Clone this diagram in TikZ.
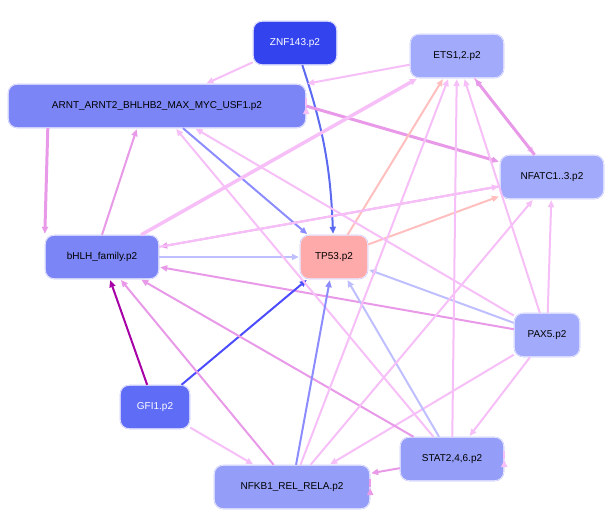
\documentclass[tikz,border=0pt]{standalone}
\usepackage{fontspec}
\setmainfont{Liberation Sans}
\usetikzlibrary{arrows.meta}
\begin{document}
\begin{tikzpicture}[x=1pt,y=-1pt,
 nd/.style={draw=white,double=blue!20,rounded corners=9pt,minimum height=44pt,font=\fontsize{10}{12}\selectfont,inner xsep=7pt},
 e/.style={-{Triangle[length=7pt,width=6pt]},line width=2pt,shorten >=1pt},
 lp/.style={e,draw=violet!25!magenta!25},
 mp/.style={e,draw=violet!45!magenta!40},
 lb/.style={e,draw=blue!25},
 pk/.style={e,draw=red!25}]
\useasboundingbox (0,0) rectangle (612,517);
\definecolor{c1}{HTML}{3344EE}\definecolor{c2}{HTML}{A2AAFB}\definecolor{c3}{HTML}{7B85F5}
\definecolor{c4}{HTML}{FFAAAA}\definecolor{c5}{HTML}{5F6CF5}\definecolor{c6}{HTML}{949EF8}
\node[nd,fill=c1,text=white,minimum width=84pt] (z) at (295,43) {ZNF143.p2};
\node[nd,fill=c2,minimum width=94pt] (e) at (457,56) {ETS1,2.p2};
\node[nd,fill=c3,minimum width=298pt] (a) at (157,106) {ARNT\_ARNT2\_BHLHB2\_MAX\_MYC\_USF1.p2};
\node[nd,fill=c2,minimum width=104pt] (n) at (552,177) {NFATC1..3.p2};
\node[nd,fill=c3,minimum width=114pt] (b) at (102,257) {bHLH\_family.p2};
\node[nd,fill=c4,minimum width=68pt] (t) at (334,257) {TP53.p2};
\node[nd,fill=c2,minimum width=66pt] (p) at (547,335) {PAX5.p2};
\node[nd,fill=c5,text=white,minimum width=70pt] (g) at (155,407) {GFI1.p2};
\node[nd,fill=c6,minimum width=104pt] (s) at (452,459) {STAT2,4,6.p2};
\node[nd,fill=c6,minimum width=156pt] (k) at (292,487) {NFKB1\_REL\_RELA.p2};
\begin{scope}[on background layer/.style={}]
\draw[e,draw=c1!80] (z) to[bend left=8] (t);
\draw[lp] (z) -- (a);
\draw[lp] (e) -- (a.north east);
\draw[lp] (e) -- (n);
\draw[mp,line width=3pt] (n) -- (e);
\draw[mp,line width=3pt] (a.east) -- (n);
\draw[e,draw=blue!45] (a) -- (t);
\draw[lp] (a.east) to[out=-10,in=0,looseness=6] (a.east);
\draw[mp,line width=3pt] (a.south west) ++(40,0) -- (b.north west);
\draw[mp] (b.north) -- ([xshift=-20pt]a.south);
\draw[lb] (b) -- (t);
\draw[lp,line width=3.5pt] (b) -- (e);
\draw[pk] (t) -- (e);
\draw[pk] (t) -- (n);
\draw[mp] (n) -- (b);
\draw[lp] (p) -- (n);
\draw[lb] (p) -- (t);
\draw[mp] (p) -- (b);
\draw[lp] (p) -- (e);
\draw[lp] (p) -- (s);
\draw[lp] (p) -- (k);
\draw[lp] (p) -- (a);
\draw[e,draw=violet!70!magenta] (g) -- (b);
\draw[e,draw=blue!70] (g) -- (t);
\draw[lp] (g) -- (k);
\draw[lb] (s) -- (t);
\draw[mp] (s) -- (b);
\draw[lp] (s) -- (a);
\draw[lp] (s.east) to[out=20,in=-20,looseness=5] (s.east);
\draw[mp] (s) -- (k);
\draw[lp] (s) -- (e);
\draw[e,draw=blue!45] (k) -- (t);
\draw[mp] (k) -- (b);
\draw[mp] (k.east) to[out=-10,in=10,looseness=5] (k.east);
\draw[lp] (k) -- (e);
\draw[lp] (k) -- (n);
\draw[lp] (b) -- (n);
\end{scope}
\end{tikzpicture}
\end{document}
